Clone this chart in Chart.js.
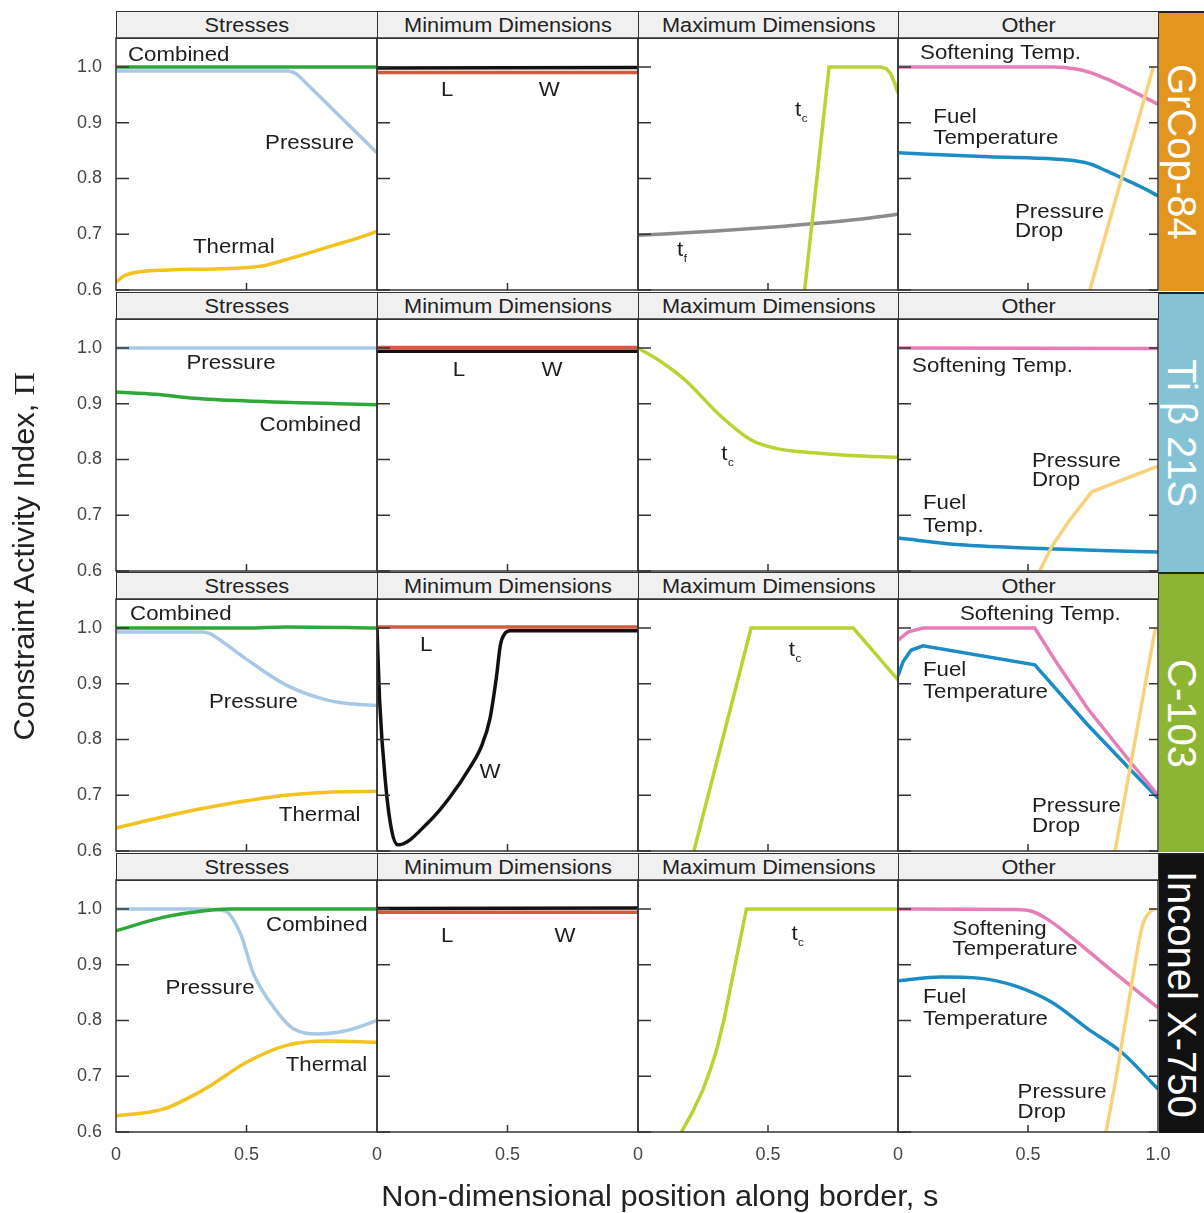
<!DOCTYPE html>
<html lang="en">
<head>
<meta charset="UTF-8">
<title>Constraint Activity Index</title>
<script src="https://cdn.jsdelivr.net/npm/chart.js"></script>
<style>
  body { margin: 0; background: #fff; font-family: 'Liberation Sans', Arial, sans-serif; }
  #fig { position: relative; width: 1204px; height: 1213px; overflow: hidden; }
  #fig canvas { position: absolute; }
  .hdr { position: absolute; box-sizing: border-box; border: 1px solid #333; background: #f0f0f0;
         display: flex; align-items: center; justify-content: center; font-size: 20.5px; color: #222; }
  .hdr span, .axt span { display: inline-block; transform: scaleX(1.06); }
  .strip { position: absolute; box-sizing: border-box; border-top: 2px solid #222; display: flex;
           align-items: center; justify-content: center; color: #fff; font-size: 40px; }
  .strip span { writing-mode: vertical-rl; white-space: nowrap; }
  .axt { position: absolute; text-align: center; font-size: 29px; color: #222; white-space: nowrap; }
</style>
</head>
<body>
<div id="fig"></div>
<script>
// categories and ticks
const rows = ['GrCop-84', 'Ti β 21S', 'C-103', 'Inconel X-750'];
const columns = ['Stresses', 'Minimum Dimensions', 'Maximum Dimensions', 'Other'];
const yTicks = [0.6, 0.7, 0.8, 0.9, 1.0];
const yTickLabels = ['0.6', '0.7', '0.8', '0.9', '1.0'];
const xTicks = [0, 0.5, 1];
const xTickLabels = ['0', '0.5', '1.0'];

// GrCop-84   [s, value]
const grcopCombined = [[0, 1.0], [1, 1.0]];
const grcopPressure = [[0, 0.993], [0.66, 0.993], [0.69, 0.988], [0.72, 0.975], [0.833, 0.923], [1, 0.846]];
const grcopThermal = [[0, 0.614], [0.03, 0.625], [0.08, 0.632], [0.2, 0.636], [0.4, 0.638], [0.56, 0.643], [0.64, 0.653], [0.75, 0.668], [0.833, 0.68], [0.92, 0.692], [1, 0.705]];
const grcopL = [[0, 0.990], [1, 0.990]];
const grcopW = [[0, 0.998], [1, 0.999]];
const grcopTc = [[0.641, 0.6], [0.735, 1.0], [0.935, 1.0], [0.955, 0.997], [0.972, 0.988], [0.988, 0.97], [1, 0.953]];
const grcopTf = [[0, 0.698], [0.3, 0.706], [0.55, 0.714], [0.7, 0.72], [0.85, 0.727], [1, 0.736]];
const grcopSoften = [[0, 1.0], [0.6, 1.0], [0.68, 0.997], [0.74, 0.99], [0.8, 0.979], [0.865, 0.965], [0.93, 0.95], [1, 0.933]];
const grcopFuel = [[0, 0.846], [0.35, 0.839], [0.6, 0.835], [0.68, 0.832], [0.74, 0.826], [0.8, 0.814], [0.865, 0.8], [0.93, 0.786], [1, 0.769]];
const grcopDrop = [[0.738, 0.6], [0.982, 1.0]];

// Ti beta 21S
const tiPressure = [[0, 1.0], [1, 1.0]];
const tiCombined = [[0, 0.921], [0.15, 0.917], [0.3, 0.91], [0.5, 0.905], [0.7, 0.902], [0.85, 0.9], [1, 0.898]];
const tiL = [[0, 1.001], [1, 1.001]];
const tiW = [[0, 0.994], [1, 0.994]];
const tiTc = [[0, 1.0], [0.09, 0.975], [0.18, 0.943], [0.32, 0.877], [0.435, 0.835], [0.53, 0.82], [0.675, 0.812], [0.815, 0.807], [1, 0.804]];
const tiSoften = [[0, 1.0], [1, 0.999]];
const tiFuel = [[0, 0.659], [0.24, 0.647], [0.52, 0.641], [0.75, 0.637], [1, 0.634]];
const tiDrop = [[0.545, 0.6], [0.59, 0.643], [0.66, 0.691], [0.745, 0.742], [1, 0.788]];

// C-103
const c103Combined = [[0, 1.0], [0.5, 1.0], [0.65, 1.002], [1, 1.0]];
const c103Pressure = [[0, 0.993], [0.33, 0.993], [0.36, 0.99], [0.4, 0.978], [0.494, 0.946], [0.651, 0.898], [0.806, 0.871], [0.9, 0.864], [1, 0.861]];
const c103Thermal = [[0, 0.641], [0.17, 0.66], [0.34, 0.677], [0.5, 0.69], [0.65, 0.7], [0.8, 0.705], [1, 0.707]];
const c103L = [[0, 1.002], [1, 1.002]];
const c103W = [[0, 1.0], [0.01, 0.87], [0.033, 0.72], [0.057, 0.635], [0.08, 0.611], [0.2, 0.653], [0.277, 0.695], [0.355, 0.749], [0.402, 0.79], [0.433, 0.838], [0.457, 0.91], [0.473, 0.97], [0.49, 0.99], [0.51, 0.995], [1, 0.995]];
const c103Tc = [[0.215, 0.6], [0.435, 1.0], [0.828, 1.0], [1, 0.907]];
const c103Soften = [[0, 0.978], [0.04, 0.993], [0.096, 1.0], [0.526, 1.0], [0.6, 0.945], [0.73, 0.855], [0.9, 0.756], [1, 0.7]];
const c103Fuel = [[0, 0.914], [0.02, 0.94], [0.05, 0.96], [0.096, 0.968], [0.526, 0.934], [0.73, 0.826], [0.9, 0.743], [1, 0.695]];
const c103Drop = [[0.835, 0.6], [0.99, 1.0]];

// Inconel X-750
const incCombined = [[0, 0.961], [0.18, 0.985], [0.34, 0.997], [0.43, 1.0], [1, 1.0]];
const incPressure = [[0, 1.0], [0.3, 1.0], [0.4, 0.998], [0.43, 0.993], [0.48, 0.952], [0.525, 0.886], [0.59, 0.833], [0.68, 0.785], [0.775, 0.776], [0.885, 0.782], [1, 0.8]];
const incThermal = [[0, 0.629], [0.18, 0.641], [0.34, 0.677], [0.5, 0.725], [0.65, 0.755], [0.81, 0.763], [1, 0.761]];
const incL = [[0, 0.994], [1, 0.994]];
const incW = [[0, 1.001], [1, 1.002]];
const incTc = [[0.167, 0.6], [0.21, 0.636], [0.25, 0.676], [0.28, 0.714], [0.305, 0.752], [0.33, 0.8], [0.417, 1.0], [1, 1.0]];
const incSoften = [[0, 1.0], [0.45, 0.999], [0.52, 0.995], [0.58, 0.98], [0.66, 0.952], [0.8, 0.898], [1, 0.823]];
const incFuel = [[0, 0.871], [0.165, 0.878], [0.31, 0.876], [0.45, 0.862], [0.59, 0.833], [0.73, 0.785], [0.86, 0.743], [1, 0.677]];
const incDrop = [[0.8, 0.6], [0.84, 0.7], [0.9, 0.869], [0.94, 0.97], [0.97, 0.995], [0.99, 1.0]];

// line colours
const colors = {
  combined: '#2fa83a', pressure: '#a9c8e5', thermal: '#f4c220', L: '#d45a3d', W: '#111111',
  tc: '#b8d432', tf: '#8c8c8c', soften: '#e77db6', fuel: '#1b8cc4', drop: '#f8d27a'
};
const stripColors = ['#e2961e', '#84c3d6', '#8cb534', '#111111'];

// [data, colour, smooth] per panel; first listed is drawn on top
const panels = [
  [
    [[grcopCombined, 'combined', true], [grcopPressure, 'pressure', true], [grcopThermal, 'thermal', true]],
    [[grcopW, 'W', false], [grcopL, 'L', false]],
    [[grcopTc, 'tc', false], [grcopTf, 'tf', true]],
    [[grcopDrop, 'drop', false], [grcopSoften, 'soften', true], [grcopFuel, 'fuel', true]]
  ],
  [
    [[tiPressure, 'pressure', true], [tiCombined, 'combined', true]],
    [[tiL, 'L', false], [tiW, 'W', false]],
    [[tiTc, 'tc', true]],
    [[tiDrop, 'drop', false], [tiSoften, 'soften', true], [tiFuel, 'fuel', true]]
  ],
  [
    [[c103Combined, 'combined', true], [c103Pressure, 'pressure', true], [c103Thermal, 'thermal', true]],
    [[c103W, 'W', true], [c103L, 'L', false]],
    [[c103Tc, 'tc', false]],
    [[c103Drop, 'drop', false], [c103Soften, 'soften', false], [c103Fuel, 'fuel', false]]
  ],
  [
    [[incCombined, 'combined', true], [incPressure, 'pressure', true], [incThermal, 'thermal', true]],
    [[incW, 'W', false], [incL, 'L', false]],
    [[incTc, 'tc', false]],
    [[incDrop, 'drop', true], [incSoften, 'soften', true], [incFuel, 'fuel', true]]
  ]
];

// curve labels: text, s, value (left edge, vertical middle), optional subscript
const notes = [
  [
    [['Combined', 0.046, 1.022], ['Pressure', 0.571, 0.864], ['Thermal', 0.295, 0.677]],
    [['L', 0.245, 0.959], ['W', 0.62, 0.959]],
    [['t', 0.604, 0.923, 'c'], ['t', 0.15, 0.672, 'f']],
    [['Softening Temp.', 0.085, 1.024], ['Fuel', 0.136, 0.91], ['Temperature', 0.136, 0.872], ['Pressure', 0.45, 0.739], ['Drop', 0.45, 0.705]]
  ],
  [
    [['Pressure', 0.27, 0.973], ['Combined', 0.55, 0.862]],
    [['L', 0.29, 0.96], ['W', 0.63, 0.96]],
    [['t', 0.32, 0.81, 'c']],
    [['Softening Temp.', 0.054, 0.968], ['Fuel', 0.096, 0.722], ['Temp.', 0.096, 0.681], ['Pressure', 0.515, 0.797], ['Drop', 0.515, 0.762]]
  ],
  [
    [['Combined', 0.054, 1.025], ['Pressure', 0.356, 0.867], ['Thermal', 0.624, 0.665]],
    [['L', 0.165, 0.97], ['W', 0.393, 0.741]],
    [['t', 0.58, 0.961, 'c']],
    [['Softening Temp.', 0.238, 1.024], ['Fuel', 0.096, 0.925], ['Temperature', 0.096, 0.885], ['Pressure', 0.515, 0.68], ['Drop', 0.515, 0.644]]
  ],
  [
    [['Combined', 0.575, 0.971], ['Pressure', 0.19, 0.858], ['Thermal', 0.65, 0.719]],
    [['L', 0.245, 0.951], ['W', 0.68, 0.951]],
    [['t', 0.59, 0.955, 'c']],
    [['Softening', 0.21, 0.964], ['Temperature', 0.21, 0.928], ['Fuel', 0.096, 0.842], ['Temperature', 0.096, 0.802], ['Pressure', 0.46, 0.671], ['Drop', 0.46, 0.635]]
  ]
];

const fig = document.getElementById('fig');
const colX = [116, 377, 638, 898, 1158];
const rowTop = [11, 292, 572, 853];
const HDR = 27, PLOT_H = 252, M = 16, AXW = 66, AXH = 50;
const FONT = "'Liberation Sans', Arial, sans-serif";

// frame, inward ticks and curve labels
function makeFrame(labels, lastCol) {
  return {
    id: 'frame',
    afterDatasetsDraw(chart) {
      const { ctx, chartArea: a, scales: { x, y } } = chart;
      ctx.save();
      ctx.fillStyle = '#1e1e1e';
      ctx.textBaseline = 'middle';
      labels.forEach(l => {
        ctx.save();
        ctx.translate(x.getPixelForValue(l[1]), y.getPixelForValue(l[2]));
        ctx.scale(1.06, 1);
        ctx.font = '21px ' + FONT;
        ctx.fillText(l[0], 0, 0);
        if (l[3]) {
          const w = ctx.measureText(l[0]).width;
          ctx.font = '11px ' + FONT;
          ctx.fillText(l[3], w + 0.5, 9);
        }
        ctx.restore();
      });
      ctx.strokeStyle = '#333';
      ctx.lineWidth = 1.5;
      ctx.strokeRect(a.left, a.top, a.right - a.left, a.bottom - a.top);
      ctx.beginPath();
      yTicks.forEach(v => {
        const py = y.getPixelForValue(v);
        ctx.moveTo(a.left, py); ctx.lineTo(a.left + 13, py);
        if (lastCol) { ctx.moveTo(a.right, py); ctx.lineTo(a.right - 9, py); }
      });
      const px = x.getPixelForValue(xTicks[1]);
      ctx.moveTo(px, a.bottom); ctx.lineTo(px, a.bottom - 7);
      ctx.stroke();
      ctx.restore();
    }
  };
}

// headers and material strips
rows.forEach((name, r) => {
  columns.forEach((title, c) => {
    const h = document.createElement('div');
    h.className = 'hdr';
    h.style.left = colX[c] + 'px';
    h.style.top = rowTop[r] + 'px';
    h.style.width = (colX[c + 1] - colX[c] + 1) + 'px';
    h.style.height = (HDR + 1) + 'px';
    h.innerHTML = '<span>' + title + '</span>';
    fig.appendChild(h);
  });
  const s = document.createElement('div');
  s.className = 'strip';
  s.style.left = '1159px';
  s.style.top = rowTop[r] + 'px';
  s.style.width = '45px';
  s.style.height = (HDR + PLOT_H + 1) + 'px';
  s.style.background = stripColors[r];
  s.innerHTML = '<span>' + name + '</span>';
  fig.appendChild(s);
});

// panels
rows.forEach((name, r) => {
  columns.forEach((title, c) => {
    const first = c === 0, bottom = r === rows.length - 1, last = c === columns.length - 1;
    const L = colX[c], W = colX[c + 1] - colX[c], T = rowTop[r] + HDR;
    const padR = last ? 24 : M;
    const axW = first ? AXW : 0, axH = bottom ? AXH : 0;
    const cv = document.createElement('canvas');
    cv.width = W + M + padR + axW;
    cv.height = PLOT_H + 2 * M + axH;
    cv.style.left = (L - M - axW) + 'px';
    cv.style.top = (T - M) + 'px';
    fig.appendChild(cv);

    new Chart(cv, {
      type: 'line',
      data: {
        datasets: panels[r][c].map(([pts, key, smooth]) => ({
          data: pts.map(p => ({ x: p[0], y: p[1] })),
          borderColor: colors[key],
          borderWidth: 3.5,
          pointRadius: 0,
          fill: false,
          tension: 0,
          cubicInterpolationMode: smooth ? 'monotone' : 'default'
        }))
      },
      options: {
        responsive: false,
        animation: false,
        events: [],
        layout: { padding: { left: M, right: padR, top: M, bottom: M } },
        plugins: { legend: { display: false }, tooltip: { enabled: false } },
        scales: {
          x: {
            type: 'linear', min: 0, max: 1, display: bottom,
            afterBuildTicks: sc => { sc.ticks = xTicks.map(v => ({ value: v })); },
            afterFit: sc => { sc.height = axH; sc.paddingLeft = 0; sc.paddingRight = 0; },
            ticks: {
              padding: 12, autoSkip: false, maxRotation: 0, color: '#444',
              font: { family: FONT, size: 18 },
              callback: (v, i) => (i === xTicks.length - 1 && !last) ? '' : xTickLabels[i]
            },
            grid: { display: false, drawTicks: false },
            border: { display: false }
          },
          y: {
            type: 'linear', min: 0.6, max: 1.052, display: first,
            afterBuildTicks: sc => { sc.ticks = yTicks.map(v => ({ value: v })); },
            afterFit: sc => { sc.width = axW; sc.paddingTop = 0; sc.paddingBottom = 0; },
            ticks: {
              padding: 14, color: '#444',
              font: { family: FONT, size: 18 },
              callback: (v, i) => yTickLabels[i]
            },
            grid: { display: false, drawTicks: false },
            border: { display: false }
          }
        }
      },
      plugins: [makeFrame(notes[r][c], last)]
    });
  });
});

// axis titles
const yt = document.createElement('div');
yt.className = 'axt';
yt.style.width = '600px'; yt.style.height = '36px'; yt.style.lineHeight = '36px';
yt.style.left = (24 - 300) + 'px'; yt.style.top = (557 - 18) + 'px';
yt.style.transform = 'rotate(-90deg)';
yt.innerHTML = '<span>Constraint Activity Index, <span style="font-family:\'Liberation Serif\',serif">Π</span></span>';
fig.appendChild(yt);

const xt = document.createElement('div');
xt.className = 'axt';
xt.style.width = '800px'; xt.style.left = (660 - 400) + 'px'; xt.style.top = '1180px';
xt.innerHTML = '<span>Non-dimensional position along border, s</span>';
fig.appendChild(xt);
</script>
</body>
</html>
